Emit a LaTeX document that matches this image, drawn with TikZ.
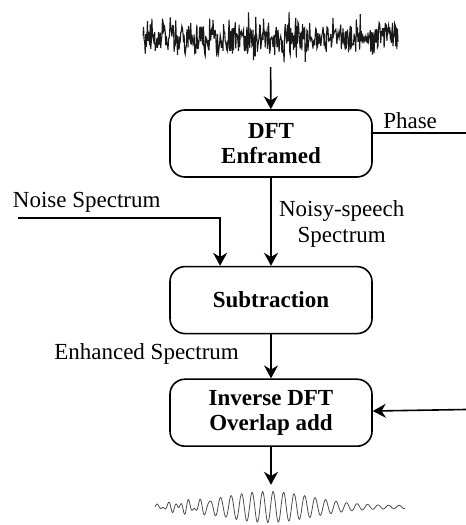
\documentclass[tikz,border=0pt]{standalone}
\usepackage{fontspec}
\setmainfont{Liberation Serif}
\usepackage{tikz}
\usetikzlibrary{shapes.geometric, arrows.meta, positioning, calc}

\begin{document}
\begin{tikzpicture}[x=1pt, y=1pt, font=\fontsize{23}{26}\selectfont]
    \tikzstyle{proc} = [rectangle, draw=black, line width=1.6pt, rounded corners=15pt, minimum width=202pt, minimum height=67pt, inner sep=2pt, align=center, font=\fontsize{23}{25}\selectfont\bfseries]
    \tikzstyle{wave} = [inner sep=0pt]
    \tikzstyle{arrow} = [line width=1.6pt, -{Stealth[length=13pt, width=14pt]}]
    \tikzstyle{line} = [line width=1.6pt]

    \useasboundingbox (0,0) rectangle (466,525);

    \node (noisy) [wave, minimum width=255pt, minimum height=58pt] at (270.5,487) {};
    \node (dft) [proc] at (271,381.5) {DFT\\Enframed};
    \node (sub) [proc, below=88pt of dft] {Subtraction};
    \node (idft) [proc, below=44pt of sub] {Inverse DFT\\Overlap add};
    \node (clean) [wave, minimum width=250pt, minimum height=44pt] at (271,18) {};

    \coordinate (phaseout) at (466,392);
    \coordinate (noisein) at (18,307);
    \coordinate (idftin) at (466,115.5);

    % noisy speech frame
    \pgfmathsetseed{11}
    \draw[line width=1.1pt, black!90] plot[domain=143:398, samples=460, variable=\t]
        (\t, {487 + 13*rand + 30*rand*rand*rand});

    % enhanced speech
    \draw[line width=0.8pt, black!70] plot[domain=0:250, samples=600, variable=\u]
        ({155+\u}, {18 + (1.5 + 14*exp(-((\u-113)/62)^2))*sin((\u/10.5)*360) + 4*exp(-min(((\u-30)/25)^2,30))*sin((\u/6.3)*360)});

    \draw [arrow] (noisy) -- (dft);
    \draw [line] ([yshift=10.5pt]dft.east) -- node[above, pos=0.4] {Phase} (phaseout);
    \draw [arrow] (noisein) -| node[above, pos=0.17, yshift=1pt] {Noise Spectrum} ($(sub.north west)!0.25!(sub.north east)$);
    \draw [arrow] (dft) -- node[right, align=center, xshift=4pt, yshift=-2pt] {Noisy-speech\\Spectrum} (sub);
    \draw [arrow] (sub) -- node[left, xshift=-28pt, yshift=2pt] {Enhanced Spectrum} (idft);
    \draw [arrow] (idftin) -- (idft);
    \draw [arrow] (idft) -- (clean);
\end{tikzpicture}
\end{document}
